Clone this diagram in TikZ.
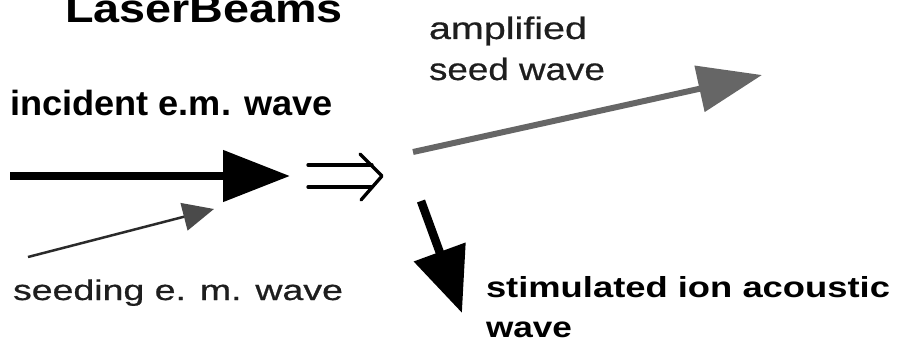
\documentclass[tikz,border=0pt]{standalone}
\usepackage{fontspec}
\setmainfont{Liberation Sans}
\newfontfamily\medfont[FakeBold=0.6]{Liberation Sans}
\usetikzlibrary{arrows.meta}
\definecolor{ampgray}{HTML}{666666}
\definecolor{seedline}{HTML}{2A2A2A}
\definecolor{seedhead}{HTML}{4A4A4A}
\definecolor{txtgray}{HTML}{1E1E1E}
\newcommand\fittext[3]{\resizebox{#1}{\height}{\fontsize{#2}{#2}\selectfont #3}}
\begin{document}
\begin{tikzpicture}[x=1pt,y=-1pt,
  lbl/.style={anchor=base west, inner sep=0pt, outer sep=0pt},
  dbl/.style={line width=3.3pt, line cap=round, line join=round}]
\useasboundingbox (0,0) rectangle (903,345);
\clip (0,0) rectangle (903,345);
% texts
\node[lbl] (title) at (65,23) {\fittext{278pt}{40}{\bfseries LaserBeams}};
\node[lbl] (inc) at (10,116) {\fittext{323pt}{35}{\bfseries incident e.m. wave}};
\node[lbl, text=txtgray] (seedt) at (13,300) {\fittext{330pt}{28.5}{\medfont seeding e. m. wave}};
\node[lbl, text=txtgray] (amp1) at (429,39) {\fittext{158pt}{31}{\medfont amplified}};
\node[lbl, text=txtgray] (amp2) at (429,80) {\fittext{176pt}{31}{\medfont seed wave}};
\node[lbl] (stim1) at (486,297) {\fittext{404pt}{29}{\bfseries stimulated ion acoustic}};
\node[lbl] (stim2) at (486,337) {\fittext{86pt}{29}{\bfseries wave}};
% arrows
\coordinate (incS) at (10,176);
\coordinate (incE) at (290,176);
\draw[line width=8pt, -{Triangle[length=67pt,width=50pt]}] (incS) -- (incE);
\coordinate (seedS) at (28,257);
\coordinate (seedE) at (214,209);
\draw[seedline, line width=2.5pt, -{Triangle[length=31pt,width=28pt,color=seedhead,fill=seedhead]}] (seedS) -- (seedE);
\coordinate (ampS) at (413,152);
\coordinate (ampE) at (762,75);
\draw[ampgray, line width=6pt, -{Triangle[length=64pt,width=46pt]}] (ampS) -- (ampE);
\coordinate (stimS) at (421,201);
\coordinate (stimE) at (462,313);
\draw[line width=8.5pt, -{Triangle[length=65pt,width=53pt]}] (stimS) -- (stimE);
% implies symbol
\coordinate (d1a) at (308,165); \coordinate (d1b) at (372,165);
\coordinate (d2a) at (308,187); \coordinate (d2b) at (372,187);
\coordinate (cvt) at (360,154); \coordinate (cvm) at (382,176); \coordinate (cvb) at (361,200);
\draw[dbl] (d1a) -- (d1b);
\draw[dbl] (d2a) -- (d2b);
\draw[dbl] (cvt) -- (cvm) -- (cvb);
\end{tikzpicture}
\end{document}
